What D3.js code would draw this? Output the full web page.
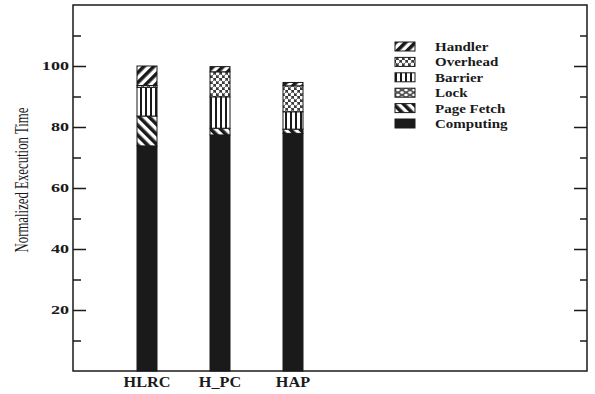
<!DOCTYPE html>
<html>
<head>
<meta charset="utf-8">
<script src="https://cdn.jsdelivr.net/npm/d3@7"></script>
<style>
  html, body { margin: 0; padding: 0; background: #fff; }
  svg { display: block; }
  text { font-family: "Liberation Serif", "Times New Roman", serif; fill: #1a1a1a; }
</style>
</head>
<body>
<svg id="chart" width="595" height="394"></svg>
<script>
// Systems compared
const categories = ["HLRC", "H_PC", "HAP"];

// Stack components, bottom to top
const components = ["Computing", "Page Fetch", "Lock", "Barrier", "Overhead", "Handler"];

// Normalized execution time breakdown per system (one array per component)
const computing = [73.8, 77.4, 77.9];
const pageFetch = [9.8, 2.2, 1.4];
const lock = [0, 0, 0];
const barrier = [9.4, 10.3, 5.7];
const overhead = [0.6, 8.2, 8.5];
const handler = [6.4, 1.7, 1.1];

// Legend order, top to bottom
const legendOrder = ["Handler", "Overhead", "Barrier", "Lock", "Page Fetch", "Computing"];

// Y axis ticks
const majorTicks = [20, 40, 60, 80, 100];
const minorTicks = [10, 30, 50, 70, 90, 110];

const seriesValues = {
  "Computing": computing,
  "Page Fetch": pageFetch,
  "Lock": lock,
  "Barrier": barrier,
  "Overhead": overhead,
  "Handler": handler
};

const rows = categories.map((c, i) => {
  const r = { category: c };
  components.forEach(k => { r[k] = seriesValues[k][i]; });
  return r;
});

const svg = d3.select("#chart");
const ink = "#1a1a1a";

const frame = { left: 73, right: 587, top: 5, bottom: 371 };

const y = d3.scaleLinear().domain([0, 120]).range([frame.bottom, frame.top]);
const x = d3.scalePoint().domain(categories).range([147, 293]);
const barWidth = 20;

// ---- fill patterns ----
const defs = svg.append("defs");

function stripes(id, angle, period, thick) {
  const p = defs.append("pattern")
    .attr("id", id)
    .attr("patternUnits", "userSpaceOnUse")
    .attr("width", period).attr("height", period)
    .attr("patternTransform", `rotate(${angle})`);
  p.append("rect").attr("width", period).attr("height", period).attr("fill", "#fff");
  p.append("rect").attr("x", 0).attr("y", 0).attr("width", thick).attr("height", period).attr("fill", ink);
}
stripes("pat-handler", 45, 7, 3.6);
stripes("pat-pagefetch", -45, 7, 3.6);
stripes("pat-barrier", 0, 5, 2);

// Overhead: white rounded cells on a dark lattice
(function () {
  const p = defs.append("pattern")
    .attr("id", "pat-overhead")
    .attr("patternUnits", "userSpaceOnUse")
    .attr("width", 6).attr("height", 6);
  p.append("rect").attr("width", 6).attr("height", 6).attr("fill", "#3a3a3a");
  p.append("circle").attr("cx", 1.5).attr("cy", 1.5).attr("r", 1.9).attr("fill", "#fff");
  p.append("circle").attr("cx", 4.5).attr("cy", 4.5).attr("r", 1.9).attr("fill", "#fff");
})();

// Lock: lighter blobs on a gray ground
(function () {
  const p = defs.append("pattern")
    .attr("id", "pat-lock")
    .attr("patternUnits", "userSpaceOnUse")
    .attr("width", 8).attr("height", 5);
  p.append("rect").attr("width", 8).attr("height", 5).attr("fill", "#555");
  p.append("ellipse").attr("cx", 2).attr("cy", 2.5).attr("rx", 1.8).attr("ry", 1.3).attr("fill", "#fff");
  p.append("ellipse").attr("cx", 6).attr("cy", 0).attr("rx", 1.8).attr("ry", 1.3).attr("fill", "#fff");
  p.append("ellipse").attr("cx", 6).attr("cy", 5).attr("rx", 1.8).attr("ry", 1.3).attr("fill", "#fff");
})();

const fills = {
  "Computing": ink,
  "Page Fetch": "url(#pat-pagefetch)",
  "Lock": "url(#pat-lock)",
  "Barrier": "url(#pat-barrier)",
  "Overhead": "url(#pat-overhead)",
  "Handler": "url(#pat-handler)"
};

// ---- bars ----
const stacked = d3.stack().keys(components)(rows);

svg.append("g").selectAll("g")
  .data(stacked)
  .join("g")
  .attr("fill", d => fills[d.key])
  .selectAll("rect")
  .data(d => d.filter(s => s[1] - s[0] > 0))
  .join("rect")
  .attr("x", d => x(d.data.category) - barWidth / 2)
  .attr("width", barWidth)
  .attr("y", d => y(d[1]))
  .attr("height", d => y(d[0]) - y(d[1]))
  .attr("stroke", ink)
  .attr("stroke-width", 1);

// ---- frame and ticks ----
svg.append("rect")
  .attr("x", frame.left).attr("y", frame.top)
  .attr("width", frame.right - frame.left)
  .attr("height", frame.bottom - frame.top)
  .attr("fill", "none").attr("stroke", ink).attr("stroke-width", 1.5);

const leftAxis = d3.axisRight(y).tickValues(majorTicks).tickSize(13).tickFormat("");
const leftMinor = d3.axisRight(y).tickValues(minorTicks).tickSize(8).tickFormat("");
const rightAxis = d3.axisLeft(y).tickValues(majorTicks).tickSize(13).tickFormat("");
const rightMinor = d3.axisLeft(y).tickValues(minorTicks).tickSize(7).tickFormat("");

[[leftAxis, frame.left], [leftMinor, frame.left], [rightAxis, frame.right], [rightMinor, frame.right]]
  .forEach(([ax, px]) => {
    const g = svg.append("g").attr("transform", `translate(${px},0)`).call(ax);
    g.select(".domain").remove();
    g.selectAll("line").attr("stroke", ink).attr("stroke-width", 1.5);
  });

// Tick labels
svg.append("g").selectAll("text")
  .data(majorTicks)
  .join("text")
  .attr("transform", d => `translate(69,${y(d) + 4.3}) scale(1.45,1)`)
  .attr("text-anchor", "end")
  .attr("font-size", 12.5)
  .attr("font-weight", "bold")
  .text(d => d);

// Category labels
svg.append("g").selectAll("text")
  .data(categories)
  .join("text")
  .attr("transform", d => `translate(${x(d)},387) scale(1.16,1)`)
  .attr("text-anchor", "middle")
  .attr("font-size", 14)
  .attr("font-weight", "bold")
  .text(d => d);

// Y axis title
svg.append("text")
  .attr("transform", "translate(28,180) rotate(-90) scale(1,1.4)")
  .attr("text-anchor", "middle")
  .attr("font-size", 12.8)
  .text("Normalized Execution Time");

// ---- legend ----
const legend = svg.append("g");
const legendRow = (d, i) => 51 + i * 15.4;

legend.selectAll("rect")
  .data(legendOrder)
  .join("rect")
  .attr("x", 395)
  .attr("y", (d, i) => legendRow(d, i) - 9)
  .attr("width", 20).attr("height", 9)
  .attr("fill", d => fills[d])
  .attr("stroke", ink).attr("stroke-width", 1);

legend.selectAll("text")
  .data(legendOrder)
  .join("text")
  .attr("transform", (d, i) => `translate(435,${legendRow(d, i)}) scale(1.2,1)`)
  .attr("font-size", 12.5)
  .attr("font-weight", "bold")
  .text(d => d);
</script>
</body>
</html>
